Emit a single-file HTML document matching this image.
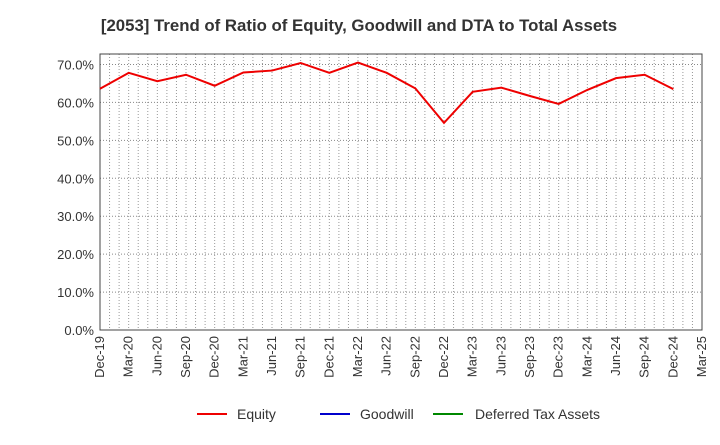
<!DOCTYPE html>
<html><head><meta charset="utf-8"><style>
body{margin:0;background:#fff;font-family:"Liberation Sans",sans-serif;}
</style></head><body>
<svg width="720" height="440" xmlns="http://www.w3.org/2000/svg" font-family="Liberation Sans, sans-serif">
<text x="359" y="31" text-anchor="middle" font-size="16.8" font-weight="bold" fill="#333">[2053]  Trend of Ratio of Equity, Goodwill and DTA to Total Assets</text>
<g id="grid"></g>
<g id="axes"></g>
<g id="series"></g>
<g font-size="14" fill="#333">
<line x1="197" y1="414" x2="227" y2="414" stroke="#e00" stroke-width="2"/><text x="237" y="419">Equity</text>
<line x1="320" y1="414" x2="350" y2="414" stroke="#00c" stroke-width="2"/><text x="360" y="419">Goodwill</text>
<line x1="433" y1="414" x2="463" y2="414" stroke="#080" stroke-width="2"/><text x="475" y="419">Deferred Tax Assets</text>
</g>
</svg>
<script>
const categories=["Dec-19","Mar-20","Jun-20","Sep-20","Dec-20","Mar-21","Jun-21","Sep-21","Dec-21","Mar-22","Jun-22","Sep-22","Dec-22","Mar-23","Jun-23","Sep-23","Dec-23","Mar-24","Jun-24","Sep-24","Dec-24","Mar-25"];
const equity=[63.6,67.8,65.6,67.3,64.4,67.9,68.4,70.4,67.8,70.5,67.8,63.7,54.6,62.8,63.9,61.7,59.6,63.3,66.4,67.3,63.5];
const yTicks=[0,10,20,30,40,50,60,70];
const L=100,R=702,T=54,B=330;
const NS="http://www.w3.org/2000/svg";
const xq=i=>L+i*(R-L)/(categories.length-1);
const y=v=>B-v*(B-64.5)/70;
function mk(t,a,p){const e=document.createElementNS(NS,t);for(const k in a)e.setAttribute(k,a[k]);p.appendChild(e);return e;}
const g=document.getElementById('grid'),ax=document.getElementById('axes'),s=document.getElementById('series');
const months=(categories.length-1)*3;
for(let m=1;m<months;m++){const x=L+m*(R-L)/months;
const ln=mk('line',{x1:x,x2:x,y1:T,y2:B,stroke:'#999','stroke-dasharray':'1,2','stroke-width':1},g);

}
yTicks.forEach(v=>{const yy=y(v);
if(v>0){const ln=mk('line',{x1:L,x2:R,y1:yy,y2:yy,stroke:'#888','stroke-dasharray':'1,2'},g);

}
const t=mk('text',{x:L-6,y:yy+5,'text-anchor':'end','font-size':13,fill:'#333'},ax);t.textContent=v.toFixed(1)+'%';

});
const fr=mk('rect',{x:L,y:T,width:R-L,height:B-T,fill:'none',stroke:'#444','stroke-width':1},ax);


categories.forEach((c,i)=>{const x=xq(i);
const t=mk('text',{x:x+4,y:B+6,'text-anchor':'end','font-size':13,fill:'#333',transform:`rotate(-90 ${x+4} ${B+6})`},ax);t.textContent=c;

});
const p=mk('polyline',{points:equity.map((v,i)=>xq(i)+','+y(v)).join(' '),fill:'none',stroke:'#e00','stroke-width':2},s);


</script>
</body></html>
